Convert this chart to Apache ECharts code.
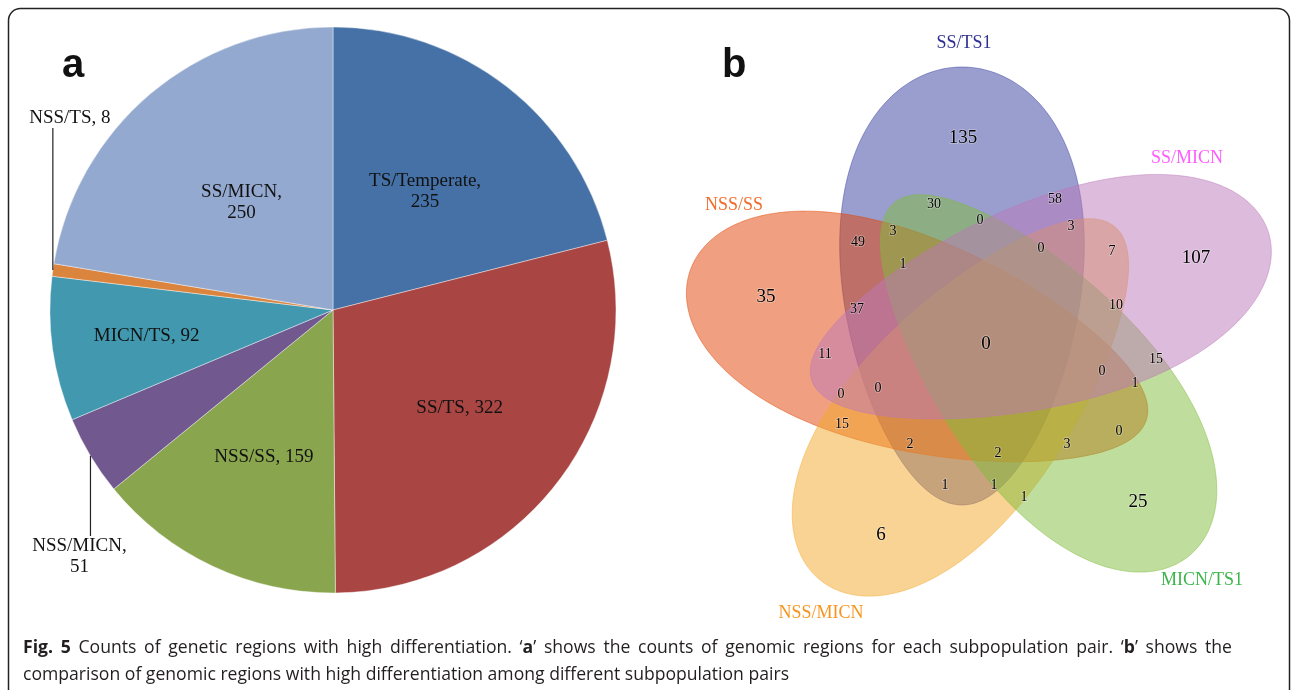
<!DOCTYPE html>
<html><head><meta charset="utf-8">
<script src="https://cdn.jsdelivr.net/npm/echarts@6/dist/echarts.min.js"></script>
<style>html,body{margin:0;padding:0;background:#fff}#c{width:1292px;height:690px}</style>
</head><body><div id="c"></div>
<script>
// ---------- Panel a: pie ----------
const pieCategories = ['TS/Temperate', 'SS/TS', 'NSS/SS', 'NSS/MICN', 'MICN/TS', 'NSS/TS', 'SS/MICN'];
const pieValues = [235, 322, 159, 51, 92, 8, 250];
const pieColors = ['#4571A6', '#A94543', '#89A54E', '#71588F', '#4198AF', '#DB843D', '#93A9CF'];
const pieLabelWrap = [true, false, false, true, false, false, true];

// ---------- Panel b: five-set Venn ----------
// sets: A = SS/TS1, B = SS/MICN, C = MICN/TS1, D = NSS/MICN, E = NSS/SS
const vennSetNames = ['SS/TS1', 'SS/MICN', 'MICN/TS1', 'NSS/MICN', 'NSS/SS'];
const vennSetColors = ['#353D9F', '#BB77B9', '#7FBB39', '#F3A729', '#E14101'];
const vennSetLabelColors = ['#2E3192', '#FF5CFF', '#3AB54A', '#F7941D', '#F26B2A'];
const vennRegionSets = ['A', 'B', 'E', 'AC', 'AB', 'ABC', 'ABD', 'ACE', 'AE', 'ABCD', 'BD', 'ACDE', 'ABE', 'BCD',
                        'ABCDE', 'BE', 'BC', 'ABCE', 'BCE', 'ABDE', 'BDE', 'DE', 'CE', 'ADE', 'CDE', 'BCDE', 'AD', 'ACD', 'CD', 'C', 'D'];
const vennCounts = [135, 107, 35, 30, 58, 0, 3, 3, 49, 0, 7, 1, 37, 10,
                    0, 11, 15, 0, 1, 0, 0, 15, 0, 2, 3, 2, 1, 1, 1, 25, 6];

// ---------- caption ----------
const captionLine1 = ['[Fig.]', '[5]', 'Counts', 'of', 'genetic', 'regions', 'with', 'high', 'differentiation.',
  '‘[a]’', 'shows', 'the', 'counts', 'of', 'genomic', 'regions', 'for', 'each', 'subpopulation', 'pair.',
  '‘[b]’', 'shows', 'the'];
const captionLine2 = 'comparison of genomic regions with high differentiation among different subpopulation pairs';

// ---------- layout (not data) ----------
const PIE_CX = 333, PIE_CY = 310, PIE_R = 283;
const pieLabelRadius = [0.53, 0.565, 0.575, null, 0.665, null, 0.5];
const pieOutside = { 5: { dx: 17, y: 118, lineEnd: 128 }, 3: { dx: -11, y: 557, lineEnd: 536 } };

const vennEllipseCX = [-24, 54, 56, -19, -68];
const vennEllipseCY = [58, 38, -35, -59, -2];
const vennEllipseA = [219, 240, 230, 230, 240];
const vennEllipseB = [120, 102, 104, 104, 106];
const vennEllipseAngle = [90, 18, -50, 230, 162];   // major axis pointing outward
const VENN_EGG = 0.2;
const vennDrawOrder = [0, 4, 3, 2, 1];
const vennRegionX = [-23, 210, -220, -52, 69, -6, 85, -93, -128, 55, 126, -83, -129, 130,
                     0, -161, 170, 116, 149, -108, -145, -144, 133, -76, 81, 12, -41, 8, 38, 152, -105];
const vennRegionY = [206, 86, 47, 140, 145, 124, 118, 113, 102, 96, 93, 80, 35, 39,
                     0, -10, -15, -27, -39, -44, -50, -80, -87, -100, -100, -109, -141, -141, -153, -158, -191];
const vennSetLabelX = [-22, 201, 216, -165, -252];
const vennSetLabelY = [301, 186, -236, -269, 139];

const CAP_FONT = '"Open Sans"', CAP_SIZE = 17.6, CAP_LEFT = 23, CAP_RIGHT = 1232;

function rgba(hex, a) {
  const n = parseInt(hex.slice(1), 16);
  return 'rgba(' + (n >> 16 & 255) + ',' + (n >> 8 & 255) + ',' + (n & 255) + ',' + a + ')';
}

// justified first caption line built from rich tokens
const measureCtx = document.createElement('canvas').getContext('2d');
function tw(s, bold) { measureCtx.font = (bold ? 'bold ' : '') + CAP_SIZE + 'px ' + CAP_FONT; return measureCtx.measureText(s).width; }
function wordParts(w) { // "[x]" marks bold parts
  const parts = []; const re = /\[([^\]]+)\]|([^\[]+)/g; let m;
  while ((m = re.exec(w))) parts.push(m[1] ? { t: m[1], b: true } : { t: m[2], b: false });
  return parts;
}
let wordsWidth = 0;
captionLine1.forEach(w => wordParts(w).forEach(p => { wordsWidth += tw(p.t, p.b); }));
const gapW = (CAP_RIGHT - CAP_LEFT - wordsWidth) / (captionLine1.length - 1);
const captionRich = captionLine1.map(w => wordParts(w).map(p => '{' + (p.b ? 'b' : 'n') + '|' + p.t + '}').join('')).join('{sp| }');

const total = pieValues.reduce((s, v) => s + v, 0);
const midAngles = [];
{ let acc = 0; pieValues.forEach(v => { midAngles.push((acc + v / 2) / total * 2 * Math.PI); acc += v; }); }

const leaderLines = Object.keys(pieOutside).map(k => {
  const i = +k, m = midAngles[i];
  const ex = PIE_CX + PIE_R * Math.sin(m), ey = PIE_CY - PIE_R * Math.cos(m);
  return { type: 'line', silent: true, z: 100,
    shape: { x1: ex, y1: ey, x2: ex, y2: pieOutside[i].lineEnd },
    style: { stroke: '#222', lineWidth: 1.2 } };
});

const chart = echarts.init(document.getElementById('c'), null, { renderer: 'canvas' });
const serif = '"Liberation Serif","Times New Roman",serif';
const capStyle = { fontFamily: CAP_FONT, fontSize: CAP_SIZE, color: '#231F20', lineHeight: 22 };

chart.setOption({
  animation: false,
  backgroundColor: '#fff',
  title: [
    { text: 'a', left: 57, top: 41, textStyle: { fontFamily: '"Liberation Sans",Arial', fontWeight: 'bold', fontSize: 40, color: '#111' } },
    { text: 'b', left: 717, top: 41, textStyle: { fontFamily: '"Liberation Sans",Arial', fontWeight: 'bold', fontSize: 40, color: '#111' } },
    { text: captionRich, left: CAP_LEFT, top: 637, padding: 0,
      textStyle: Object.assign({}, capStyle, { rich: {
        n: Object.assign({}, capStyle, { fontWeight: 'normal' }),
        b: Object.assign({}, capStyle, { fontWeight: 'bold' }),
        sp: Object.assign({}, capStyle, { width: gapW }) } }) },
    { text: captionLine2, left: CAP_LEFT, top: 664, padding: 0,
      textStyle: Object.assign({}, capStyle, { fontWeight: 'normal' }) }
  ],
  graphic: [
    { type: 'rect', silent: true, z: 100, shape: { x: 8.5, y: 8.5, width: 1281, height: 720, r: 12 },
      style: { fill: 'none', stroke: '#222', lineWidth: 1.5 } }
  ].concat(leaderLines),
  grid: { left: 660, top: 20, width: 632, height: 600 },
  xAxis: { type: 'value', min: -326, max: 306, show: false },
  yAxis: { type: 'value', min: -276, max: 324, show: false },
  series: [
    {
      type: 'pie', center: [PIE_CX, PIE_CY], radius: PIE_R, startAngle: 90, clockwise: true,
      avoidLabelOverlap: false, silent: true,
      itemStyle: { borderColor: 'rgba(255,255,255,0.6)', borderWidth: 0.7 },
      label: {
        show: true, position: 'inside', color: '#111', fontFamily: serif, fontSize: 19, lineHeight: 21,
        formatter: p => pieLabelWrap[p.dataIndex] ? p.name + ',\n' + p.value : p.name + ', ' + p.value
      },
      labelLine: { show: false },
      labelLayout: function (p) {
        const i = p.dataIndex, m = midAngles[i];
        if (pieOutside[i]) {
          const ex = PIE_CX + PIE_R * Math.sin(m);
          return { x: ex + pieOutside[i].dx, y: pieOutside[i].y, align: 'center', verticalAlign: 'middle' };
        }
        const f = pieLabelRadius[i];
        return { x: PIE_CX + f * PIE_R * Math.sin(m), y: PIE_CY - f * PIE_R * Math.cos(m), align: 'center', verticalAlign: 'middle' };
      },
      data: pieCategories.map((n, i) => ({ name: n, value: pieValues[i], itemStyle: { color: pieColors[i] } }))
    },
    {
      type: 'custom', coordinateSystem: 'cartesian2d', silent: true,
      encode: { x: 0, y: 1 },
      data: vennDrawOrder.map(k => [vennEllipseCX[k], vennEllipseCY[k], k]),
      renderItem: function (params, api) {
        const k = api.value(2);
        const cx = vennEllipseCX[k], cy = vennEllipseCY[k], a = vennEllipseA[k], b = vennEllipseB[k];
        const t = vennEllipseAngle[k] * Math.PI / 180;
        const pts = [];
        for (let j = 0; j < 240; j++) {
          const u = j / 240 * 2 * Math.PI;
          const ex = a * Math.cos(u), ey = b * Math.sin(u) * (1 + VENN_EGG * Math.cos(u));
          pts.push(api.coord([cx + ex * Math.cos(t) - ey * Math.sin(t), cy + ex * Math.sin(t) + ey * Math.cos(t)]));
        }
        return { type: 'polygon', shape: { points: pts },
          style: { fill: rgba(vennSetColors[k], 0.5), stroke: rgba(vennSetColors[k], 0.45), lineWidth: 1 } };
      }
    },
    {
      type: 'scatter', silent: true, symbolSize: 1, itemStyle: { color: 'rgba(0,0,0,0)', opacity: 1 }, z: 5,
      data: vennCounts.map((c, i) => {
        const n = vennRegionSets[i].length;
        const big = (n === 1 || n === 5);
        return { name: vennRegionSets[i], value: [vennRegionX[i], vennRegionY[i], c],
          label: { fontSize: big ? 19 : 14 } };
      }),
      label: { show: true, position: 'inside', color: '#000', fontFamily: serif,
        textBorderColor: 'rgba(255,255,255,0.35)', textBorderWidth: 1.5,
        formatter: p => String(p.value[2]) }
    },
    {
      type: 'scatter', silent: true, symbolSize: 1, itemStyle: { color: 'rgba(0,0,0,0)', opacity: 1 }, z: 5,
      data: vennSetNames.map((n, i) => ({ name: n, value: [vennSetLabelX[i], vennSetLabelY[i]],
        label: { color: vennSetLabelColors[i] } })),
      label: { show: true, position: 'inside', fontFamily: serif, fontSize: 18, formatter: p => p.name }
    }
  ]
});
</script></body></html>
